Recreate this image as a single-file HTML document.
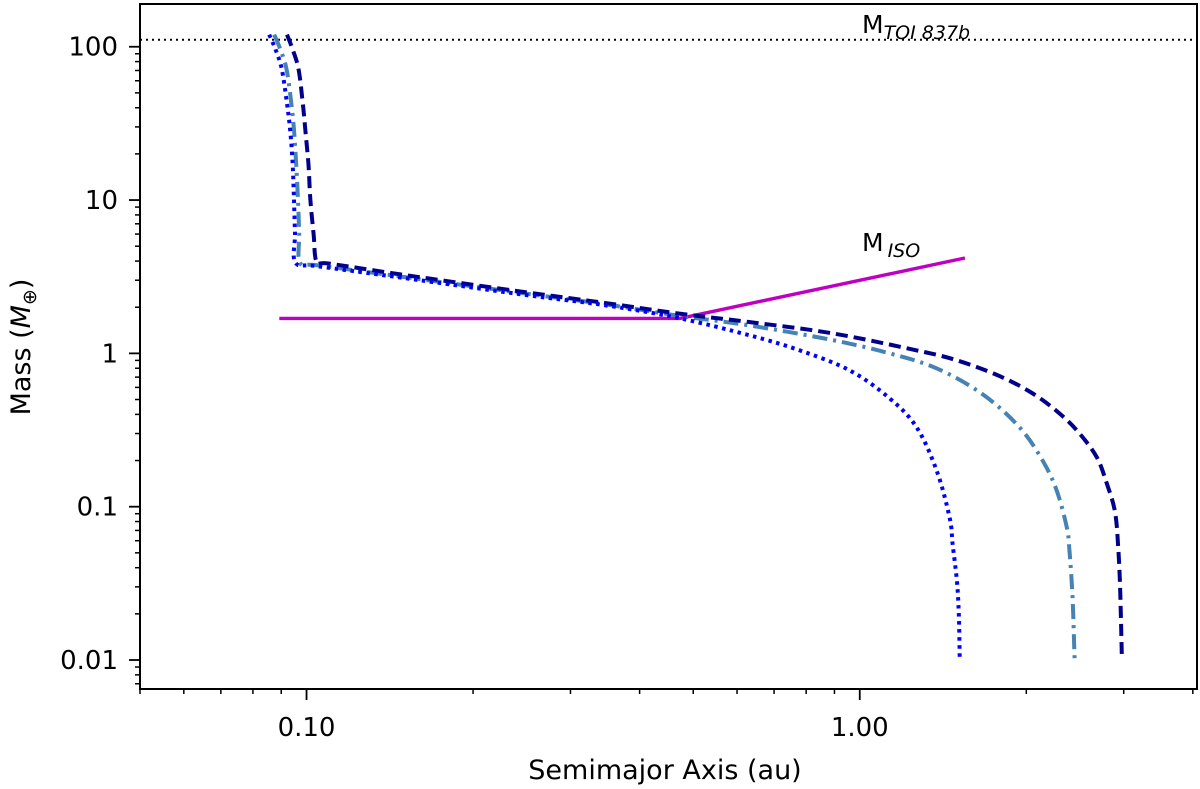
<!DOCTYPE html>
<html><head><meta charset="utf-8"><style>
html,body{margin:0;padding:0;background:#fff;}
svg{display:block;font-family:"DejaVu Sans","Liberation Sans",sans-serif;}
</style></head><body>
<svg id="chart" width="1200" height="789" viewBox="0 0 1200 789" xmlns="http://www.w3.org/2000/svg"></svg>
<script>
const xTickVals=[0.1,1.0];
const xTickLabels=["0.10","1.00"];
const yTickVals=[100,10,1,0.1,0.01];
const yTickLabels=["100","10","1","0.1","0.01"];
const dottedA=[0.0856,0.0880,0.0902,0.0920,0.0934,0.0944,0.0949,0.0953,0.0955,0.105,0.15,0.25,0.35,0.47,0.633,0.779,0.959,1.133,1.268,1.378,1.454,1.472,1.498,1.510,1.516];
const dottedM=[120,95,71.6,45,28.8,17,10,6,3.9,3.7,3.1,2.4,2.05,1.70,1.31,1.046,0.774,0.508,0.328,0.171,0.0843,0.057,0.033,0.020,0.0102];
const dashdotA=[0.0874,0.0898,0.0920,0.0937,0.0949,0.0958,0.0965,0.0970,0.0973,0.105,0.15,0.25,0.35,0.47,0.633,0.894,1.133,1.378,1.669,1.947,2.142,2.271,2.368,2.394,2.425,2.445];
const dashdotM=[120,95,71.6,45,28.8,17,10,6,3.9,3.75,3.15,2.45,2.08,1.76,1.52,1.22,1.0,0.798,0.54,0.328,0.199,0.127,0.0727,0.0513,0.0254,0.0102];
const dashedA=[0.0922,0.0945,0.0967,0.0983,0.0995,0.1008,0.1016,0.1030,0.1043,0.11,0.15,0.25,0.35,0.47,0.633,0.894,1.268,1.5,1.791,2.055,2.298,2.497,2.684,2.797,2.891,2.93,2.955,2.978];
const dashedM=[120,95,71.6,45,28.8,17,10,6,3.94,3.85,3.25,2.5,2.12,1.82,1.6,1.35,1.046,0.90,0.71,0.547,0.405,0.30,0.209,0.141,0.094,0.057,0.030,0.0102];
const isoA=[0.0893,0.473,1.549];
const isoM=[1.69,1.69,4.19];
const toiMass=111;

const svg=document.getElementById('chart');
const NS='http://www.w3.org/2000/svg';
const L=140,R=1197,T=4,B=689;
const xmin=0.05,xmax=4.07,ymin=0.00647,ymax=190;
function xs(v){return L+(Math.log10(v)-Math.log10(xmin))/(Math.log10(xmax)-Math.log10(xmin))*(R-L);}
function ys(v){return B-(Math.log10(v)-Math.log10(ymin))/(Math.log10(ymax)-Math.log10(ymin))*(B-T);}
function mk(tag,attrs){const e=document.createElementNS(NS,tag);for(const k in attrs)e.setAttribute(k,attrs[k]);svg.appendChild(e);return e;}

const defs=document.createElementNS(NS,'defs');
defs.innerHTML='<clipPath id="pc"><rect x="'+L+'" y="'+T+'" width="'+(R-L)+'" height="'+(B-T)+'"/></clipPath>';
svg.appendChild(defs);

function smoothPath(P){
  let d='M'+P[0][0].toFixed(1)+','+P[0][1].toFixed(1);
  for(let i=0;i<P.length-1;i++){
    const p0=P[i-1]||P[i],p1=P[i],p2=P[i+1],p3=P[i+2]||P[i+1];
    const c1=[p1[0]+(p2[0]-p0[0])/6,p1[1]+(p2[1]-p0[1])/6];
    const c2=[p2[0]-(p3[0]-p1[0])/6,p2[1]-(p3[1]-p1[1])/6];
    d+=' C'+c1[0].toFixed(1)+','+c1[1].toFixed(1)+' '+c2[0].toFixed(1)+','+c2[1].toFixed(1)+' '+p2[0].toFixed(1)+','+p2[1].toFixed(1);
  }
  return d;
}
function line(A,M,color,dash,name,w,smooth){
  const P=A.map((a,i)=>[xs(a),ys(M[i])]);
  const d=smooth?smoothPath(P):P.map((p,i)=>(i?'L':'M')+p[0].toFixed(1)+','+p[1].toFixed(1)).join(' ');
  const p=mk('path',{d:d,fill:'none',stroke:color,'stroke-width':w,'stroke-dasharray':dash,'stroke-linejoin':'round','clip-path':'url(#pc)'});
  
  
}
const h=mk('line',{x1:L,x2:R,y1:ys(toiMass),y2:ys(toiMass),stroke:'#000','stroke-width':2,'stroke-dasharray':'2,4'});



line(isoA,isoM,'#c000c0','none','isolation-mass-line',3.4,false);
line(dashdotA,dashdotM,'#4682b4','15,6,3,6','dashdot-series',4,true);
line(dashedA,dashedM,'#00008b','12,6','dashed-series',4,true);
line(dottedA,dottedM,'#0000ff','3.5,4.5','dotted-series',4,true);

const f=mk('rect',{x:L,y:T,width:R-L,height:B-T,fill:'none',stroke:'#000','stroke-width':2});



const minorX=[0.05,0.06,0.07,0.08,0.09,0.2,0.3,0.4,0.5,0.6,0.7,0.8,0.9,2,3,4];
minorX.forEach(v=>{const t=mk('line',{x1:xs(v),x2:xs(v),y1:B,y2:B+5,stroke:'#000','stroke-width':1.5});
});
xTickVals.forEach((v,i)=>{
  const t=mk('line',{x1:xs(v),x2:xs(v),y1:B,y2:B+11,stroke:'#000','stroke-width':1.8});
  
  const tx=mk('text',{x:xs(v),y:B+47,'text-anchor':'middle','font-size':26,fill:'#000'});
  tx.textContent=xTickLabels[i];
  
});
for(let e=-3;e<=2;e++){for(let k=2;k<=9;k++){const v=k*Math.pow(10,e);if(v<ymin||v>ymax)continue;
 const t=mk('line',{x1:L-5,x2:L,y1:ys(v),y2:ys(v),stroke:'#000','stroke-width':1.5});
 }}
yTickVals.forEach((v,i)=>{
  const t=mk('line',{x1:L-11,x2:L,y1:ys(v),y2:ys(v),stroke:'#000','stroke-width':1.8});
  
  const tx=mk('text',{x:L-22,y:ys(v)+9,'text-anchor':'end','font-size':26,fill:'#000'});
  tx.textContent=yTickLabels[i];
  
});
const xt=mk('text',{x:665,y:779,'text-anchor':'middle','font-size':27,fill:'#000'});
xt.textContent='Semimajor Axis (au)';

const yt=mk('text',{x:0,y:0,'text-anchor':'middle','font-size':27,fill:'#000',transform:'translate(30,347) rotate(-90)'});
yt.innerHTML='Mass (<tspan font-style="italic">M</tspan><tspan font-size="19" dy="6">⊕</tspan><tspan dy="-6">)</tspan>';

const a1=mk('text',{x:862,y:33,'font-size':25,fill:'#000'});
a1.innerHTML='M<tspan font-size="19" font-style="italic" dy="6">TOI 837b</tspan>';

const a2=mk('text',{x:862,y:251,'font-size':25,fill:'#000'});
a2.innerHTML='M<tspan font-size="19" font-style="italic" dy="6" dx="4">ISO</tspan>';

</script>
</body></html>
